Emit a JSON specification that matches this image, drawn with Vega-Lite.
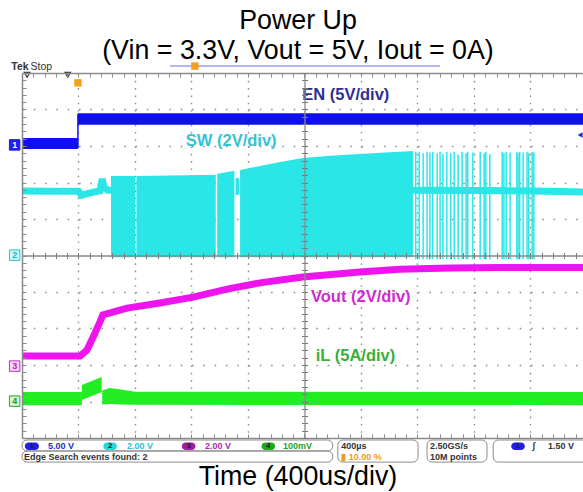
{
  "$schema": "https://vega.github.io/schema/vega-lite/v6.json",
  "width": 561,
  "height": 365,
  "autosize": {"type": "none"},
  "padding": {"left": 22, "top": 73, "right": 0, "bottom": 54},
  "background": "white",
  "config": {"view": {"stroke": null}},
  "datasets": {
    "en": [
      {"s": "a", "x": 0, "y": 7.92, "y2": 8.22},
      {"s": "a", "x": 0.99, "y": 7.92, "y2": 8.22},
      {"s": "b", "x": 0.99, "y": 8.58, "y2": 8.9},
      {"s": "b", "x": 9.93, "y": 8.58, "y2": 8.9}
    ],
    "enj": [{"x": 0.99, "y": 7.95, "y2": 8.88}],
    "swpre": [
      {"x": 0, "y": 6.77}, {"x": 0.5, "y": 6.76}, {"x": 1.0, "y": 6.76}, {"x": 1.05, "y": 6.65},
      {"x": 1.12, "y": 6.68}, {"x": 1.3, "y": 6.75}, {"x": 1.38, "y": 6.77}, {"x": 1.42, "y": 7.1},
      {"x": 1.45, "y": 6.88}, {"x": 1.52, "y": 6.79}, {"x": 1.58, "y": 6.79}
    ],
    "swblk": [
      {"s": "a", "x": 1.575, "y": 4.95, "y2": 7.18}, {"s": "a", "x": 2.0, "y": 4.95, "y2": 7.18},
      {"s": "b", "x": 2.025, "y": 4.95, "y2": 7.18}, {"s": "b", "x": 3.43, "y": 4.95, "y2": 7.21},
      {"s": "c", "x": 3.455, "y": 4.95, "y2": 7.24}, {"s": "c", "x": 3.76, "y": 4.95, "y2": 7.32},
      {"s": "d", "x": 3.78, "y": 6.66, "y2": 7.12}, {"s": "d", "x": 3.84, "y": 6.66, "y2": 7.12},
      {"s": "e", "x": 3.86, "y": 4.95, "y2": 7.34}, {"s": "e", "x": 4.21, "y": 4.95, "y2": 7.45},
      {"s": "e", "x": 4.57, "y": 4.95, "y2": 7.56}, {"s": "e", "x": 4.97, "y": 4.95, "y2": 7.67},
      {"s": "e", "x": 5.45, "y": 4.95, "y2": 7.73}, {"s": "e", "x": 5.98, "y": 4.95, "y2": 7.78},
      {"s": "e", "x": 6.51, "y": 4.95, "y2": 7.83}, {"s": "e", "x": 6.92, "y": 4.95, "y2": 7.86}
    ],
    "swsp": [
      {"x": 6.97, "y": 4.9, "y2": 7.84}, {"x": 7.03, "y": 4.9, "y2": 7.84}, {"x": 7.1, "y": 4.9, "y2": 7.8},
      {"x": 7.17, "y": 4.9, "y2": 7.84}, {"x": 7.22, "y": 4.9, "y2": 7.82}, {"x": 7.27, "y": 4.9, "y2": 7.84},
      {"x": 7.35, "y": 4.9, "y2": 7.8}, {"x": 7.4, "y": 4.9, "y2": 7.84}, {"x": 7.45, "y": 4.9, "y2": 7.78},
      {"x": 7.52, "y": 4.9, "y2": 7.84}, {"x": 7.59, "y": 4.9, "y2": 7.8}, {"x": 7.65, "y": 4.9, "y2": 7.84},
      {"x": 7.72, "y": 4.9, "y2": 7.76}, {"x": 7.79, "y": 4.9, "y2": 7.84}, {"x": 7.86, "y": 4.9, "y2": 7.8},
      {"x": 7.89, "y": 4.9, "y2": 7.84}, {"x": 7.98, "y": 4.9, "y2": 7.82}, {"x": 8.11, "y": 4.9, "y2": 7.84},
      {"x": 8.18, "y": 4.9, "y2": 7.8}, {"x": 8.21, "y": 4.9, "y2": 7.84}, {"x": 8.28, "y": 4.9, "y2": 7.78},
      {"x": 8.5, "y": 4.9, "y2": 7.84}, {"x": 8.53, "y": 4.9, "y2": 7.8}, {"x": 8.57, "y": 4.9, "y2": 7.84},
      {"x": 8.64, "y": 4.9, "y2": 7.82}, {"x": 8.76, "y": 4.9, "y2": 7.84}, {"x": 8.78, "y": 4.9, "y2": 7.8},
      {"x": 8.81, "y": 4.9, "y2": 7.84}, {"x": 8.87, "y": 4.9, "y2": 7.82}, {"x": 8.94, "y": 4.9, "y2": 7.84},
      {"x": 8.97, "y": 4.9, "y2": 7.8}, {"x": 9.03, "y": 4.9, "y2": 7.84}, {"x": 9.06, "y": 4.9, "y2": 7.82}
    ],
    "swpost": [{"x": 6.9, "y": 6.79}, {"x": 8.0, "y": 6.78}, {"x": 9.06, "y": 6.77}, {"x": 9.93, "y": 6.74}],
    "vout": [
      {"x": 0, "y": 2.25}, {"x": 1.03, "y": 2.25}, {"x": 1.15, "y": 2.41}, {"x": 1.26, "y": 2.77},
      {"x": 1.38, "y": 3.18}, {"x": 1.43, "y": 3.37}, {"x": 1.86, "y": 3.56}, {"x": 2.44, "y": 3.7},
      {"x": 3.03, "y": 3.86}, {"x": 3.63, "y": 4.08}, {"x": 4.21, "y": 4.25}, {"x": 4.97, "y": 4.41},
      {"x": 5.98, "y": 4.55}, {"x": 6.69, "y": 4.62}, {"x": 7.58, "y": 4.66}, {"x": 8.46, "y": 4.67},
      {"x": 9.93, "y": 4.67}
    ],
    "il": [
      {"s": "a", "x": 0, "y": 0.9, "y2": 1.26}, {"s": "a", "x": 1.06, "y": 0.9, "y2": 1.26},
      {"s": "b", "x": 1.06, "y": 1.04, "y2": 1.45}, {"s": "b", "x": 1.41, "y": 1.26, "y2": 1.67},
      {"s": "c", "x": 1.42, "y": 0.92, "y2": 1.3}, {"s": "c", "x": 1.55, "y": 0.93, "y2": 1.37},
      {"s": "c", "x": 1.75, "y": 0.92, "y2": 1.33}, {"s": "c", "x": 2.0, "y": 0.91, "y2": 1.27},
      {"s": "c", "x": 9.93, "y": 0.9, "y2": 1.26}
    ],
    "lbl": [
      {"x": 4.96, "y": 9.4, "t": "EN (5V/div)", "ch": "EN"},
      {"x": 2.9, "y": 8.14, "t": "SW (2V/div)", "ch": "SW"},
      {"x": 5.115, "y": 3.86, "t": "Vout (2V/div)", "ch": "Vout"},
      {"x": 5.2, "y": 2.25, "t": "iL (5A/div)", "ch": "iL"}
    ],
    "chm": [
      {"x": -0.13, "y": 8.03, "ch": "1"},
      {"x": -0.13, "y": 5.01, "ch": "2"},
      {"x": -0.13, "y": 1.97, "ch": "3"},
      {"x": -0.13, "y": 1.01, "ch": "4"}
    ],
    "titles": [
      {"x": 4.885, "y": 11.205, "t": "Power Up"},
      {"x": 4.885, "y": 10.38, "t": "(Vin = 3.3V, Vout = 5V, Iout = 0A)"},
      {"x": 4.885, "y": -1.29, "t": "Time (400us/div)"}
    ],
    "sbox": [
      {"x": 0, "x2": 5.5, "y": -0.055, "y2": -0.356},
      {"x": 0, "x2": 5.5, "y": -0.356, "y2": -0.66},
      {"x": 5.59, "x2": 7.01, "y": -0.055, "y2": -0.66},
      {"x": 7.17, "x2": 8.23, "y": -0.055, "y2": -0.66},
      {"x": 8.34, "x2": 10.3, "y": -0.055, "y2": -0.66}
    ],
    "sbadge": [
      {"x": 0.05, "x2": 0.3, "y": -0.12, "y2": -0.33, "ch": "1"},
      {"x": 1.44, "x2": 1.68, "y": -0.12, "y2": -0.33, "ch": "2"},
      {"x": 2.83, "x2": 3.07, "y": -0.12, "y2": -0.33, "ch": "3"},
      {"x": 4.24, "x2": 4.48, "y": -0.12, "y2": -0.33, "ch": "4"},
      {"x": 8.66, "x2": 8.9, "y": -0.12, "y2": -0.33, "ch": "1"}
    ],
    "sdig": [
      {"x": 0.175, "y": -0.225, "t": "1"},
      {"x": 1.56, "y": -0.225, "t": "2"},
      {"x": 2.95, "y": -0.225, "t": "3"},
      {"x": 4.36, "y": -0.225, "t": "4"},
      {"x": 8.78, "y": -0.225, "t": "1"}
    ],
    "stxt": [
      {"x": 0.46, "y": -0.3, "t": "5.00 V", "ch": "1"},
      {"x": 1.86, "y": -0.3, "t": "2.00 V", "ch": "2"},
      {"x": 3.24, "y": -0.3, "t": "2.00 V", "ch": "3"},
      {"x": 4.62, "y": -0.3, "t": "100mV", "ch": "4"},
      {"x": 5.65, "y": -0.3, "t": "400µs", "ch": "k"},
      {"x": 7.22, "y": -0.3, "t": "2.50GS/s", "ch": "k"},
      {"x": 9.03, "y": -0.3, "t": "ʃ", "ch": "k"},
      {"x": 9.31, "y": -0.3, "t": "1.50 V", "ch": "k"},
      {"x": 0.035, "y": -0.6, "t": "Edge Search events found: 2", "ch": "k"},
      {"x": 5.65, "y": -0.6, "t": "▮ 10.00 %", "ch": "o"},
      {"x": 7.22, "y": -0.6, "t": "10M points", "ch": "k"}
    ],
    "rec": [{"x": 2.62, "x2": 7.4, "y": 10.19}],
    "trig": [{"x": 0.99, "y": 9.73}, {"x": 3.06, "y": 10.19}],
    "tri": [{"x": 0.09, "y": 9.95}, {"x": 0.81, "y": 9.95}],
    "arrow": [{"x": 9.88, "y": 8.3}],
    "tek": [{"x": -0.19, "y": 10.08, "t": "Tek"}],
    "stop": [{"x": 0.15, "y": 10.08, "t": "Stop"}]
  },
  "encoding": {
    "x": {"field": "x", "type": "quantitative", "scale": {"domain": [0, 9.93], "nice": false, "zero": false}, "axis": null},
    "y": {"field": "y", "type": "quantitative", "scale": {"domain": [0, 10], "nice": false, "zero": false}, "axis": null}
  },
  "layer": [
    {
      "data": {"values": [{"x": 0, "y": 0}]},
      "mark": {"type": "point", "opacity": 0},
      "encoding": {
        "x": {"field": "x", "type": "quantitative", "scale": {"domain": [0, 9.93], "nice": false, "zero": false},
          "axis": {"orient": "bottom", "values": [1, 2, 3, 4, 6, 7, 8, 9], "grid": true, "gridColor": "#8f8f8f", "gridDash": [1.6, 5.7], "gridWidth": 1.4, "ticks": false, "labels": false, "domain": false, "title": null, "zindex": 0}},
        "y": {"field": "y", "type": "quantitative", "scale": {"domain": [0, 10], "nice": false, "zero": false},
          "axis": {"orient": "left", "values": [1, 2, 3, 4, 6, 7, 8, 9], "grid": true, "gridColor": "#8f8f8f", "gridDash": [1.6, 9.7], "gridWidth": 1.4, "ticks": false, "labels": false, "domain": false, "title": null, "zindex": 0}}
      }
    },
    {
      "data": {"values": [{"x": 0, "y": 0}]},
      "mark": {"type": "point", "opacity": 0},
      "encoding": {
        "x": {"field": "x", "type": "quantitative", "scale": {"domain": [0, 9.93], "nice": false, "zero": false},
          "axis": {"orient": "bottom", "values": [0,0.2,0.4,0.6,0.8,1,1.2,1.4,1.6,1.8,2,2.2,2.4,2.6,2.8,3,3.2,3.4,3.6,3.8,4,4.2,4.4,4.6,4.8,5,5.2,5.4,5.6,5.8,6,6.2,6.4,6.6,6.8,7,7.2,7.4,7.6,7.8,8,8.2,8.4,8.6,8.8,9,9.2,9.4,9.6,9.8], "grid": false, "ticks": true, "tickSize": -4, "tickColor": "#8a8a8a", "tickWidth": 1, "domain": true, "domainColor": "#8a8a8a", "domainWidth": 1.5, "labels": false, "title": null, "zindex": 1}},
        "y": {"field": "y", "type": "quantitative", "scale": {"domain": [0, 10], "nice": false, "zero": false},
          "axis": {"orient": "left", "values": [0,0.2,0.4,0.6,0.8,1,1.2,1.4,1.6,1.8,2,2.2,2.4,2.6,2.8,3,3.2,3.4,3.6,3.8,4,4.2,4.4,4.6,4.8,5,5.2,5.4,5.6,5.8,6,6.2,6.4,6.6,6.8,7,7.2,7.4,7.6,7.8,8,8.2,8.4,8.6,8.8,9,9.2,9.4,9.6,9.8,10], "grid": false, "ticks": true, "tickSize": -4, "tickColor": "#8a8a8a", "tickWidth": 1, "domain": true, "domainColor": "#8a8a8a", "domainWidth": 1.5, "labels": false, "title": null, "zindex": 1}}
      }
    },
    {
      "data": {"values": [{"x": 0, "y": 0}]},
      "mark": {"type": "point", "opacity": 0},
      "encoding": {
        "x": {"field": "x", "type": "quantitative", "scale": {"domain": [0, 9.93], "nice": false, "zero": false},
          "axis": {"orient": "top", "values": [0,0.2,0.4,0.6,0.8,1,1.2,1.4,1.6,1.8,2,2.2,2.4,2.6,2.8,3,3.2,3.4,3.6,3.8,4,4.2,4.4,4.6,4.8,5,5.2,5.4,5.6,5.8,6,6.2,6.4,6.6,6.8,7,7.2,7.4,7.6,7.8,8,8.2,8.4,8.6,8.8,9,9.2,9.4,9.6,9.8], "grid": false, "ticks": true, "tickSize": -4, "tickColor": "#8a8a8a", "tickWidth": 1, "domain": true, "domainColor": "#8a8a8a", "domainWidth": 1.5, "labels": false, "title": null, "zindex": 1}},
        "y": {"field": "y", "type": "quantitative", "axis": null}
      }
    },
    {
      "data": {"name": "en"},
      "mark": {"type": "area", "color": "#1010EE", "opacity": 1},
      "encoding": {"y2": {"field": "y2"}, "detail": {"field": "s"}}
    },
    {
      "data": {"name": "enj"},
      "mark": {"type": "rule", "color": "#1010EE", "strokeWidth": 1.5},
      "encoding": {"y2": {"field": "y2"}}
    },
    {
      "data": {"name": "swpre"},
      "mark": {"type": "line", "color": "#2BE6E6", "strokeWidth": 7, "strokeCap": "butt"},
      "encoding": {}
    },
    {
      "data": {"name": "swblk"},
      "mark": {"type": "area", "color": "#2BE6E6", "opacity": 1},
      "encoding": {"y2": {"field": "y2"}, "detail": {"field": "s"}}
    },
    {
      "data": {"name": "swsp"},
      "mark": {"type": "rule", "color": "#2BE6E6", "strokeWidth": 1.5},
      "encoding": {"y2": {"field": "y2"}}
    },
    {
      "data": {"name": "swpost"},
      "mark": {"type": "line", "color": "#2BE6E6", "strokeWidth": 7, "strokeCap": "butt"},
      "encoding": {}
    },
    {
      "data": {"name": "vout"},
      "mark": {"type": "line", "color": "#EE14EE", "strokeWidth": 7, "strokeCap": "butt"},
      "encoding": {}
    },
    {
      "data": {"name": "il"},
      "mark": {"type": "area", "color": "#22EC22", "opacity": 1},
      "encoding": {"y2": {"field": "y2"}, "detail": {"field": "s"}}
    },
    {
      "data": {"values": [{"x": 0, "y": 0}]},
      "mark": {"type": "point", "opacity": 0},
      "encoding": {
        "x": {"field": "x", "type": "quantitative", "scale": {"domain": [0, 9.93], "nice": false, "zero": false},
          "axis": {"orient": "bottom", "offset": -182.5, "values": [0,0.2,0.4,0.6,0.8,1,1.2,1.4,1.6,1.8,2,2.2,2.4,2.6,2.8,3,3.2,3.4,3.6,3.8,4,4.2,4.4,4.6,4.8,5,5.2,5.4,5.6,5.8,6,6.2,6.4,6.6,6.8,7,7.2,7.4,7.6,7.8,8,8.2,8.4,8.6,8.8,9,9.2,9.4,9.6,9.8], "grid": false, "ticks": true, "tickSize": 3, "tickColor": "#7a7a7a", "tickWidth": 1, "domain": true, "domainColor": "#8a8a8a", "domainWidth": 1.3, "labels": false, "title": null, "zindex": 1}},
        "y": {"field": "y", "type": "quantitative", "scale": {"domain": [0, 10], "nice": false, "zero": false},
          "axis": {"orient": "left", "offset": -282.5, "values": [0,0.2,0.4,0.6,0.8,1,1.2,1.4,1.6,1.8,2,2.2,2.4,2.6,2.8,3,3.2,3.4,3.6,3.8,4,4.2,4.4,4.6,4.8,5,5.2,5.4,5.6,5.8,6,6.2,6.4,6.6,6.8,7,7.2,7.4,7.6,7.8,8,8.2,8.4,8.6,8.8,9,9.2,9.4,9.6,9.8,10], "grid": false, "ticks": true, "tickSize": 3, "tickColor": "#7a7a7a", "tickWidth": 1, "domain": true, "domainColor": "#8a8a8a", "domainWidth": 1.3, "labels": false, "title": null, "zindex": 1}}
      }
    },
    {
      "data": {"values": [{"x": 0, "y": 0}]},
      "mark": {"type": "point", "opacity": 0},
      "encoding": {
        "x": {"field": "x", "type": "quantitative", "scale": {"domain": [0, 9.93], "nice": false, "zero": false},
          "axis": {"orient": "bottom", "offset": -182.5, "values": [0,0.2,0.4,0.6,0.8,1,1.2,1.4,1.6,1.8,2,2.2,2.4,2.6,2.8,3,3.2,3.4,3.6,3.8,4,4.2,4.4,4.6,4.8,5,5.2,5.4,5.6,5.8,6,6.2,6.4,6.6,6.8,7,7.2,7.4,7.6,7.8,8,8.2,8.4,8.6,8.8,9,9.2,9.4,9.6,9.8], "grid": false, "ticks": true, "tickSize": -3, "tickColor": "#7a7a7a", "tickWidth": 1, "domain": false, "labels": false, "title": null, "zindex": 1}},
        "y": {"field": "y", "type": "quantitative", "scale": {"domain": [0, 10], "nice": false, "zero": false},
          "axis": {"orient": "left", "offset": -282.5, "values": [0,0.2,0.4,0.6,0.8,1,1.2,1.4,1.6,1.8,2,2.2,2.4,2.6,2.8,3,3.2,3.4,3.6,3.8,4,4.2,4.4,4.6,4.8,5,5.2,5.4,5.6,5.8,6,6.2,6.4,6.6,6.8,7,7.2,7.4,7.6,7.8,8,8.2,8.4,8.6,8.8,9,9.2,9.4,9.6,9.8,10], "grid": false, "ticks": true, "tickSize": -3, "tickColor": "#7a7a7a", "tickWidth": 1, "domain": false, "labels": false, "title": null, "zindex": 1}}
      }
    },
    {
      "data": {"name": "lbl"},
      "mark": {"type": "text", "align": "left", "baseline": "middle", "font": "Liberation Sans", "fontSize": 16.5, "fontWeight": "bold"},
      "encoding": {
        "text": {"field": "t"},
        "color": {"field": "ch", "type": "nominal", "legend": null,
          "scale": {"domain": ["EN", "SW", "Vout", "iL"], "range": ["#2D3091", "#33C4D0", "#CF2ACF", "#39AE39"]}}
      }
    },
    {
      "data": {"name": "chm"},
      "mark": {"type": "point", "shape": "square", "size": 110, "filled": true, "strokeWidth": 1, "opacity": 1},
      "encoding": {
        "fill": {"field": "ch", "type": "nominal", "legend": null,
          "scale": {"domain": ["1", "2", "3", "4"], "range": ["#1F1FE6", "#CCF7F7", "#F7D4F7", "#D2F5D2"]}},
        "stroke": {"field": "ch", "type": "nominal", "legend": null,
          "scale": {"domain": ["1", "2", "3", "4"], "range": ["#1F1FE6", "#22C8D0", "#C030C0", "#2AA82A"]}}
      }
    },
    {
      "data": {"name": "chm"},
      "mark": {"type": "text", "align": "center", "baseline": "middle", "font": "Liberation Sans", "fontSize": 9, "fontWeight": "bold"},
      "encoding": {
        "text": {"field": "ch"},
        "color": {"field": "ch", "type": "nominal", "legend": null,
          "scale": {"domain": ["1", "2", "3", "4"], "range": ["#FFFFFF", "#1FB5C0", "#B02AB0", "#229922"]}}
      }
    },
    {
      "data": {"name": "titles"},
      "mark": {"type": "text", "align": "center", "baseline": "alphabetic", "font": "Liberation Sans", "fontSize": 26.8, "color": "#000000"},
      "encoding": {"text": {"field": "t"}}
    },
    {
      "data": {"name": "tek"},
      "mark": {"type": "text", "align": "left", "baseline": "alphabetic", "font": "Liberation Sans", "fontSize": 10.5, "fontWeight": "bold", "color": "#333333"},
      "encoding": {"text": {"field": "t"}}
    },
    {
      "data": {"name": "stop"},
      "mark": {"type": "text", "align": "left", "baseline": "alphabetic", "font": "Liberation Sans", "fontSize": 10.5, "color": "#333333"},
      "encoding": {"text": {"field": "t"}}
    },
    {
      "data": {"name": "rec"},
      "mark": {"type": "rule", "color": "#9C9CF0", "strokeWidth": 1.5},
      "encoding": {"x2": {"field": "x2"}}
    },
    {
      "data": {"name": "trig"},
      "mark": {"type": "point", "shape": "square", "size": 55, "filled": true, "color": "#F2A01E", "opacity": 1},
      "encoding": {}
    },
    {
      "data": {"name": "tri"},
      "mark": {"type": "point", "shape": "triangle-down", "size": 30, "filled": false, "color": "#333333", "strokeWidth": 1.2, "opacity": 1},
      "encoding": {}
    },
    {
      "data": {"name": "arrow"},
      "mark": {"type": "point", "shape": "triangle-left", "size": 30, "filled": true, "color": "#1F1FE6", "opacity": 1},
      "encoding": {}
    },
    {
      "data": {"name": "sbox"},
      "mark": {"type": "rect", "filled": false, "stroke": "#8c8c8c", "strokeWidth": 1, "cornerRadius": 5},
      "encoding": {"x2": {"field": "x2"}, "y2": {"field": "y2"}}
    },
    {
      "data": {"name": "sbadge"},
      "mark": {"type": "rect", "cornerRadius": 4, "opacity": 1},
      "encoding": {
        "x2": {"field": "x2"}, "y2": {"field": "y2"},
        "color": {"field": "ch", "type": "nominal", "legend": null,
          "scale": {"domain": ["1", "2", "3", "4"], "range": ["#1F1FE6", "#22DADA", "#A01EA0", "#1EA81E"]}}
      }
    },
    {
      "data": {"name": "sdig"},
      "mark": {"type": "text", "align": "center", "baseline": "middle", "font": "Liberation Sans", "fontSize": 8, "fontWeight": "bold", "color": "#222222"},
      "encoding": {"text": {"field": "t"}}
    },
    {
      "data": {"name": "stxt"},
      "mark": {"type": "text", "align": "left", "baseline": "alphabetic", "font": "Liberation Sans", "fontSize": 9, "fontWeight": "bold"},
      "encoding": {
        "text": {"field": "t"},
        "color": {"field": "ch", "type": "nominal", "legend": null,
          "scale": {"domain": ["1", "2", "3", "4", "k", "o"], "range": ["#2B2BD6", "#20C4D4", "#A82AA8", "#24A424", "#333333", "#EE9A1A"]}}
      }
    }
  ],
  "resolve": {
    "scale": {"color": "independent", "fill": "independent", "stroke": "independent"},
    "axis": {"x": "independent", "y": "independent"}
  }
}
